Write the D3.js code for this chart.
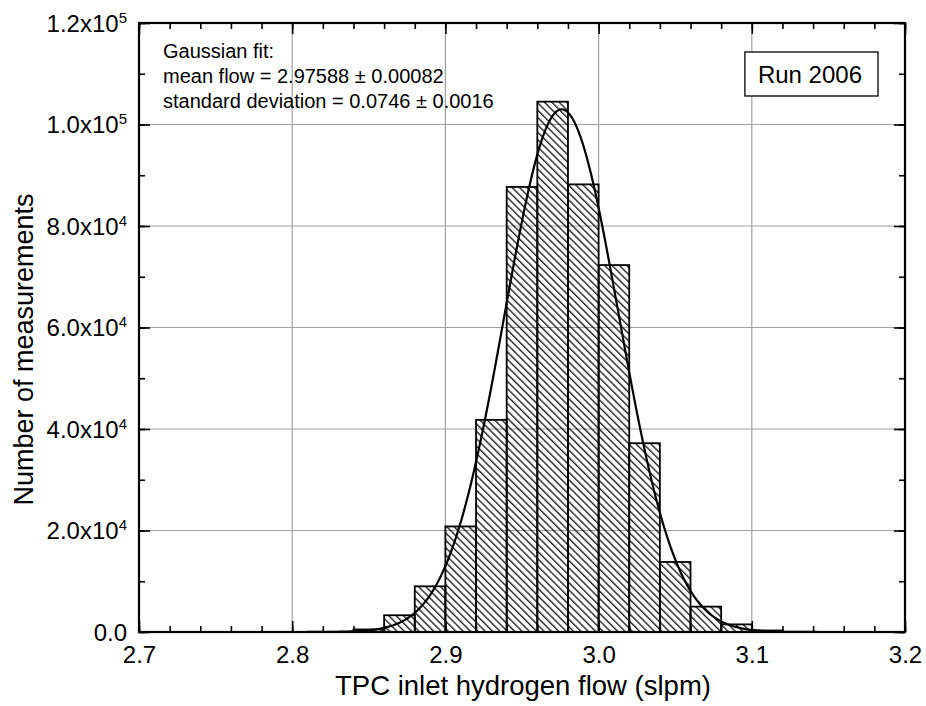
<!DOCTYPE html>
<html>
<head>
    <meta charset="utf-8">
    <style>
        body { margin: 0; background: #fff; }
        text { font-family: "Liberation Sans", Arial, sans-serif; fill: #000; }
    </style>
</head>
<body>
    <div id="container"></div>
    <script src="https://d3js.org/d3.v7.min.js"></script>
    <script>
        // histogram bins (left edge, slpm) and counts
        const binStarts = [2.84, 2.86, 2.88, 2.90, 2.92, 2.94, 2.96, 2.98, 3.00, 3.02, 3.04, 3.06, 3.08, 3.10];
        const counts = [500, 3300, 9000, 20800, 41800, 87700, 104500, 88200, 72300, 37200, 13800, 5000, 1500, 300];
        const binWidth = 0.02;

        // gaussian fit parameters (Origin style: w = 2 sigma)
        const fitMean = 2.97588;
        const fitW = 0.0746;
        const fitPeak = 103000;

        const xTicks = [2.7, 2.8, 2.9, 3.0, 3.1, 3.2];
        const yTicks = [0, 20000, 40000, 60000, 80000, 100000, 120000];
        const yTickMant = ["0.0", "2.0", "4.0", "6.0", "8.0", "1.0", "1.2"];
        const yTickExp = ["", "4", "4", "4", "4", "5", "5"];

        const fitText = ["Gaussian fit:", "mean flow = 2.97588 \u00b1 0.00082", "standard deviation = 0.0746 \u00b1 0.0016"];

        function chart() {
            const width = 926, height = 706;
            const pl = 139, pr = 905, pt = 23, pb = 632;

            const svg = d3.select("#container").append("svg")
                .attr("width", width)
                .attr("height", height);

            const x = d3.scaleLinear().domain([2.7, 3.2]).range([pl, pr]);
            const y = d3.scaleLinear().domain([0, 120000]).range([pb, pt]);

            svg.append("defs").append("pattern")
                .attr("id", "hatch")
                .attr("patternUnits", "userSpaceOnUse")
                .attr("width", 5.2)
                .attr("height", 10)
                .attr("patternTransform", "rotate(-45)")
                .append("line")
                .attr("x1", 0.7).attr("y1", 0)
                .attr("x2", 0.7).attr("y2", 10)
                .attr("stroke", "#000")
                .attr("stroke-width", 1.2);

            // grid
            const grid = svg.append("g").attr("stroke", "#a0a0a0").attr("stroke-width", 1.2);
            grid.selectAll(".gx")
                .data(xTicks.slice(1, -1))
                .join("line")
                .attr("x1", d => x(d)).attr("x2", d => x(d))
                .attr("y1", pt).attr("y2", pb);
            grid.selectAll(".gy")
                .data(yTicks.slice(1, -1))
                .join("line")
                .attr("x1", pl).attr("x2", pr)
                .attr("y1", d => y(d)).attr("y2", d => y(d));

            // bars
            svg.append("g")
                .selectAll("rect")
                .data(binStarts)
                .join("rect")
                .attr("x", d => x(d))
                .attr("width", d => x(d + binWidth) - x(d))
                .attr("y", (d, i) => y(counts[i]))
                .attr("height", (d, i) => y(0) - y(counts[i]))
                .attr("fill", "url(#hatch)")
                .attr("stroke", "#000")
                .attr("stroke-width", 1.8);

            // fit curve
            const fitX = d3.range(2.80, 3.16, 0.001);
            const gauss = v => fitPeak * Math.exp(-2 * (v - fitMean) * (v - fitMean) / (fitW * fitW));
            svg.append("path")
                .datum(fitX)
                .attr("fill", "none")
                .attr("stroke", "#000")
                .attr("stroke-width", 2.2)
                .attr("d", d3.line().x(d => x(d)).y(d => y(gauss(d))));

            // axes, ticks pointing inward on all four sides
            const xMinor = d3.range(2.7, 3.2001, 0.02).map(v => +v.toFixed(2));
            const yMinor = d3.range(0, 120001, 10000);

            svg.append("g").attr("transform", `translate(0,${pb})`)
                .call(d3.axisBottom(x).tickValues(xMinor).tickSize(-6).tickFormat(""));
            svg.append("g").attr("transform", `translate(0,${pb})`)
                .call(d3.axisBottom(x).tickValues(xTicks).tickSize(-11).tickPadding(14).tickFormat(d3.format(".1f")));
            svg.append("g").attr("transform", `translate(0,${pt})`)
                .call(d3.axisTop(x).tickValues(xMinor).tickSize(-6).tickFormat(""));
            svg.append("g").attr("transform", `translate(0,${pt})`)
                .call(d3.axisTop(x).tickValues(xTicks).tickSize(-11).tickFormat(""));
            svg.append("g").attr("transform", `translate(${pl},0)`)
                .call(d3.axisLeft(y).tickValues(yMinor).tickSize(-6).tickFormat(""));
            svg.append("g").attr("transform", `translate(${pl},0)`)
                .call(d3.axisLeft(y).tickValues(yTicks).tickSize(-11).tickFormat(""));
            svg.append("g").attr("transform", `translate(${pr},0)`)
                .call(d3.axisRight(y).tickValues(yMinor).tickSize(-6).tickFormat(""));
            svg.append("g").attr("transform", `translate(${pr},0)`)
                .call(d3.axisRight(y).tickValues(yTicks).tickSize(-11).tickFormat(""));

            svg.selectAll(".domain").remove();
            svg.selectAll(".tick line").attr("stroke", "#000").attr("stroke-width", 1.6);
            svg.selectAll(".tick text")
                .style("font-family", "\"Liberation Sans\", Arial, sans-serif")
                .style("font-size", "24px")
                .attr("fill", "#000");

            // y tick labels with superscript exponents
            const yLab = svg.append("g");
            yTicks.forEach((v, i) => {
                const t = yLab.append("text")
                    .attr("x", 127)
                    .attr("y", y(v) + 8.6)
                    .attr("text-anchor", "end")
                    .style("font-size", "24px");
                if (yTickExp[i]) {
                    t.append("tspan").text(yTickMant[i] + "x10");
                    t.append("tspan").attr("dy", -9).style("font-size", "15px").text(yTickExp[i]);
                } else {
                    t.text(yTickMant[i]);
                }
            });

            // frame
            svg.append("rect")
                .attr("x", pl).attr("y", pt)
                .attr("width", pr - pl).attr("height", pb - pt)
                .attr("fill", "none")
                .attr("stroke", "#000")
                .attr("stroke-width", 2.2);

            // axis titles
            svg.append("text")
                .attr("x", 523)
                .attr("y", 695)
                .attr("text-anchor", "middle")
                .style("font-size", "27.5px")
                .text("TPC inlet hydrogen flow (slpm)");
            svg.append("text")
                .attr("transform", `translate(33,${(pt + pb) / 2 + 22}) rotate(-90)`)
                .attr("text-anchor", "middle")
                .style("font-size", "27px")
                .text("Number of measurements");

            // fit annotation
            svg.append("g").selectAll("text")
                .data(fitText)
                .join("text")
                .attr("x", 163)
                .attr("y", (d, i) => 57.5 + i * 25)
                .style("font-size", "20px")
                .text(d => d);

            // run label box
            const run = svg.append("g");
            const runText = run.append("text")
                .attr("x", 862)
                .attr("y", 83)
                .attr("text-anchor", "end")
                .style("font-size", "24px")
                .text("Run 2006");
            const bb = runText.node().getBBox();
            run.insert("rect", "text")
                .attr("x", bb.x - 13).attr("y", 52)
                .attr("width", 878 - (bb.x - 13)).attr("height", 44)
                .attr("fill", "#fff")
                .attr("stroke", "#000")
                .attr("stroke-width", 1.3);
        }

        chart();
    </script>
</body>
</html>
